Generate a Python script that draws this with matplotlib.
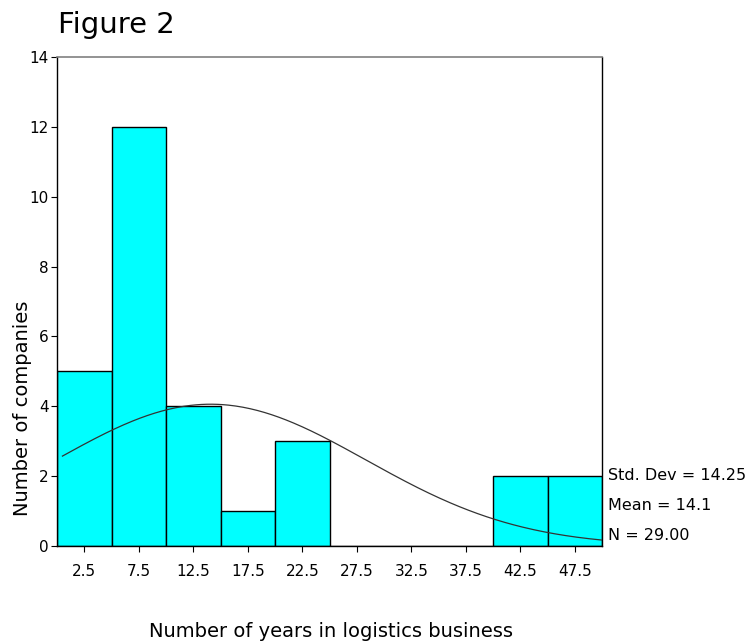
import numpy as np
import matplotlib
matplotlib.use("Agg")
import matplotlib.pyplot as plt

# Data
bin_edges = [0, 5, 10, 15, 20, 25, 30, 35, 40, 45, 50]
bin_centers = [2.5, 7.5, 12.5, 17.5, 22.5, 27.5, 32.5, 37.5, 42.5, 47.5]
counts = [5, 12, 4, 1, 3, 0, 0, 0, 2, 2]
std_dev = 14.25
mean = 14.1
n = 29
yticks = [0, 2, 4, 6, 8, 10, 12, 14]
xtick_labels = ["2.5", "7.5", "12.5", "17.5", "22.5", "27.5", "32.5", "37.5", "42.5", "47.5"]

plt.rcParams['font.family'] = ['DejaVu Sans']

fig = plt.figure(figsize=(7.46, 6.41), dpi=100)
ax = fig.add_axes([57/746, 1 - 546/641, (602 - 57)/746, (546 - 57)/641])

widths = np.diff(bin_edges)
ax.bar(bin_edges[:-1], counts, width=widths, align='edge', color='#00FFFF',
       edgecolor='black', linewidth=1.0, zorder=2)

# Normal curve
xs = np.linspace(0.5, 50, 300)
binw = bin_edges[1] - bin_edges[0]
ys = n * binw / (std_dev * np.sqrt(2 * np.pi)) * np.exp(-0.5 * ((xs - mean) / std_dev) ** 2)
ax.plot(xs, ys, color='#333333', linewidth=0.9, zorder=3)

ax.set_xlim(0, 50)
ax.set_ylim(0, 14)
ax.set_yticks(yticks)
ax.set_yticklabels([str(t) for t in yticks], fontsize=11)
ax.set_xticks(bin_centers)
ax.set_xticklabels(xtick_labels, fontsize=11)
ax.tick_params(axis='both', direction='out', length=4, width=0.8, colors='black')
ax.tick_params(axis='x', pad=9)
ax.tick_params(axis='y', pad=2)
for side in ['left', 'bottom', 'right']:
    ax.spines[side].set_color('black')
    ax.spines[side].set_linewidth(1.0)
ax.spines['top'].set_color('#808080')
ax.spines['top'].set_linewidth(1.2)

fig.text(58/746, 1 - 33/641, "Figure 2", fontsize=21, ha='left', va='baseline')
fig.text(23/746, 1 - 408/641, "Number of companies", fontsize=14, rotation=90,
         ha='center', va='center')
fig.text(331/746, 1 - 637/641, "Number of years in logistics business", fontsize=14,
         ha='center', va='baseline')

fig.text(608/746, 1 - 476/641, f"Std. Dev = {std_dev:.2f}", fontsize=11.5, ha='left', va='center')
fig.text(608/746, 1 - 506/641, f"Mean = {mean:.1f}", fontsize=11.5, ha='left', va='center')
fig.text(608/746, 1 - 536/641, f"N = {n:.2f}", fontsize=11.5, ha='left', va='center')

fig.savefig("out.png", dpi=100)
